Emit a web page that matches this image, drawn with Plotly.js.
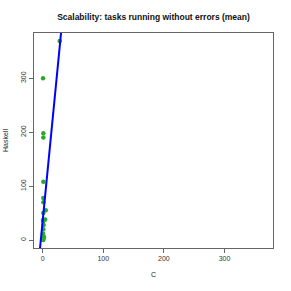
<!DOCTYPE html>
<html><head><meta charset="utf-8">
<script src="https://cdn.plot.ly/plotly-3.0.1.min.js"></script>
<style>html,body{margin:0;padding:0;background:#fff}</style>
</head><body><div id="chart" style="width:291px;height:291px"></div>
<script>
const cValues = [0.5, 1, 1, 1, 1, 1, 5, 1, 4, 0.5, 1, 1.5, 1, 0.5, 1, 2, 1, 0.5, 1, 28];
const haskellValues = [300, 198, 190, 108, 78, 70, 55, 50, 38, 37, 35, 28, 20, 12, 8, 5, 3, 1, 0, 369];
const fitCoef = [36.4, 11.5]; // intercept, slope
const xRange = [-14.4, 380];
const yRange = [-14.8, 384];
const tickVals = [0, 100, 200, 300];

const lineX = [xRange[0] - 50, xRange[1] + 50];
const lineY = lineX.map(x => fitCoef[0] + fitCoef[1] * x);

const data = [
  {x: cValues, y: haskellValues, type: 'scatter', mode: 'markers',
   marker: {color: '#2ca82c', size: 4.5}, hoverinfo: 'none'},
  {x: lineX, y: lineY, type: 'scatter', mode: 'lines',
   line: {color: '#0000ff', width: 2}, hoverinfo: 'none'}
];
const ax = {
  tickvals: tickVals, ticks: 'outside', ticklen: 4, tickcolor: '#666',
  showline: true, mirror: true, linecolor: '#666', linewidth: 1,
  showgrid: false, zeroline: false, tickfont: {size: 7, color: '#333'}
};
const layout = {
  width: 291, height: 291, showlegend: false,
  margin: {l: 34, r: 18, t: 33, b: 43},
  paper_bgcolor: '#fff', plot_bgcolor: '#fff',
  font: {family: 'Liberation Sans, Arial, sans-serif', color: '#222'},
  title: {text: '<b>Scalability: tasks running without errors (mean)</b>', x: 0.5, xref: 'paper', y: 0.942, yanchor: 'middle', font: {size: 8.5, color: '#111'}},
  xaxis: Object.assign({}, ax, {range: xRange, title: {text: 'C', font: {size: 7}, standoff: 10}}),
  yaxis: Object.assign({}, ax, {range: yRange, tickangle: -90, title: {text: 'Haskell', font: {size: 7}, standoff: 10}})
};
Plotly.newPlot('chart', data, layout, {displayModeBar: false, staticPlot: true});
</script></body></html>
